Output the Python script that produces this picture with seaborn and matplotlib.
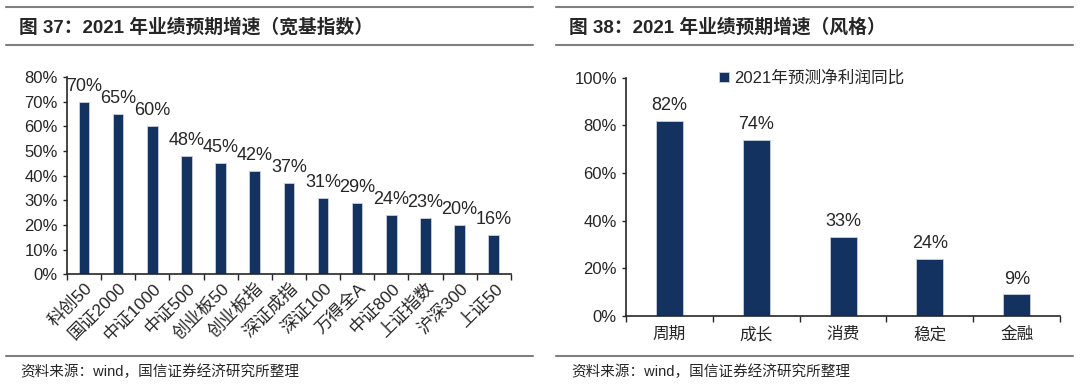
import matplotlib
matplotlib.use("Agg")
import matplotlib.pyplot as plt
from matplotlib.lines import Line2D
from matplotlib.ticker import PercentFormatter, FixedLocator
import seaborn as sns
import pandas as pd

# 数据
kuanji = ['科创50', '国证2000', '中证1000', '中证500', '创业板50', '创业板指', '深证成指',
          '深证100', '万得全A', '中证800', '上证指数', '沪深300', '上证50']
kuanji_zengsu = [70, 65, 60, 48, 45, 42, 37, 31, 29, 24, 23, 20, 16]

fengge = ['周期', '成长', '消费', '稳定', '金融']
fengge_zengsu = [82, 74, 33, 24, 9]

legend_label = '2021年预测净利润同比'
title_left = '图 37：2021 年业绩预期增速（宽基指数）'
title_right = '图 38：2021 年业绩预期增速（风格）'
source = '资料来源：wind，国信证券经济研究所整理'

sns.set_style('ticks')
plt.rcParams['font.family'] = ['Liberation Sans', 'Noto Sans CJK SC', 'DejaVu Sans']

color = '#14325f'
fig = plt.figure(figsize=(10.8, 3.91), dpi=100)

ax1 = fig.add_axes([0.062, 0.298, 0.411, 0.505])
ax2 = fig.add_axes([0.5796, 0.192, 0.402, 0.609])

df1 = pd.DataFrame({'指数': kuanji, '增速': kuanji_zengsu})
df2 = pd.DataFrame({'风格': fengge, '增速': fengge_zengsu})

sns.barplot(data=df1, x='指数', y='增速', color=color, width=0.31, ax=ax1,
            edgecolor='#c8d0dc', linewidth=0.6, saturation=1)
sns.barplot(data=df2, x='风格', y='增速', color=color, width=0.31, ax=ax2,
            edgecolor='#c8d0dc', linewidth=0.6, saturation=1, label=legend_label)

ax1.bar_label(ax1.containers[0], labels=[f'{v}%' for v in kuanji_zengsu],
              padding=5, fontsize=13)
ax2.bar_label(ax2.containers[0], labels=[f'{v}%' for v in fengge_zengsu],
              padding=5, fontsize=13)

# 坐标轴
for ax, n, top, step in [(ax1, len(kuanji), 80, 10), (ax2, len(fengge), 100, 20)]:
    ax.set_xlim(-0.5, n - 0.5)
    ax.set_ylim(0, top)
    ax.set_yticks(range(0, top + 1, step))
    ax.yaxis.set_major_formatter(PercentFormatter(decimals=0))
    ax.xaxis.set_minor_locator(FixedLocator([i - 0.5 for i in range(n + 1)]))
    ax.tick_params(axis='x', which='major', length=0)
    ax.tick_params(axis='x', which='minor', length=4, width=1, direction='out')
    ax.tick_params(axis='y', length=3, width=1, labelsize=12)
    ax.set_xlabel('')
    ax.set_ylabel('')
    for s in ['top', 'right']:
        ax.spines[s].set_visible(False)
    for s in ['left', 'bottom']:
        ax.spines[s].set_linewidth(1.2)

ax1.tick_params(axis='x', which='major', pad=4)
for lab in ax1.get_xticklabels():
    lab.set_rotation(45)
    lab.set_ha('right')
    lab.set_rotation_mode('anchor')
    lab.set_fontsize(12.5)
ax2.tick_params(axis='x', which='major', labelsize=12, pad=8)

leg = ax2.legend(loc='upper left', bbox_to_anchor=(0.2, 1.06), frameon=False,
                 fontsize=12, handlelength=0.6, handleheight=0.6, handletextpad=0.3,
                 borderaxespad=0)

# 标题与分隔线
grey = '#7f7f7f'
for x0, x1 in [(0.0056, 0.4935), (0.515, 0.9935)]:
    fig.add_artist(Line2D([x0, x1], [0.982, 0.982], color=grey, lw=1.5))
    fig.add_artist(Line2D([x0, x1], [0.885, 0.885], color=grey, lw=1.5))
    fig.add_artist(Line2D([x0, x1], [0.0895, 0.0895], color=grey, lw=1.5))

fig.text(0.018, 0.931, title_left, fontsize=13.5, fontweight='bold', va='center')
fig.text(0.527, 0.931, title_right, fontsize=13.5, fontweight='bold', va='center')
fig.text(0.019, 0.049, source, fontsize=10.5, va='center')
fig.text(0.529, 0.049, source, fontsize=10.5, va='center')

fig.savefig('out.png', dpi=100)
